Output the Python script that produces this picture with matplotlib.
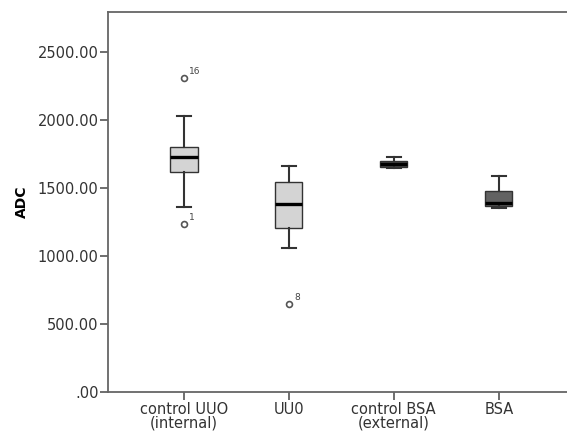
import matplotlib.pyplot as plt

# groups and box statistics (ADC)
grupos = ["control UUO\n(internal)", "UU0", "control BSA\n(external)", "BSA"]
mediana = [1730, 1385, 1680, 1395]
q1 = [1620, 1205, 1660, 1372]
q3 = [1800, 1550, 1702, 1480]
bigode_inf = [1360, 1063, 1649, 1353]
bigode_sup = [2035, 1665, 1732, 1590]
cores = ["#d4d4d4", "#d4d4d4", "#4a4a4a", "#626262"]

outliers_x = [1, 1, 2]
outliers_y = [2310, 1235, 650]
outliers_lab = ["16", "1", "8"]

stats = []
for i in range(len(grupos)):
    stats.append({"med": mediana[i], "q1": q1[i], "q3": q3[i],
                  "whislo": bigode_inf[i], "whishi": bigode_sup[i],
                  "fliers": [], "label": grupos[i]})

fig = plt.figure(figsize=(5.67, 4.34), dpi=100)
ax = fig.add_axes([0.191, 0.096, 0.809, 0.876])

bp = ax.bxp(stats, positions=range(1, 5), widths=0.26, patch_artist=True,
            showfliers=False,
            boxprops=dict(edgecolor="#333333", linewidth=1.0),
            medianprops=dict(color="black", linewidth=2.4),
            whiskerprops=dict(color="#333333", linewidth=1.5),
            capprops=dict(color="#333333", linewidth=1.5),
            capwidths=0.13)
for caixa, cor in zip(bp["boxes"], cores):
    caixa.set_facecolor(cor)

ax.scatter(outliers_x, outliers_y, s=18, facecolors="white",
           edgecolors="#555555", linewidths=1.2, zorder=3)
for x, y, t in zip(outliers_x, outliers_y, outliers_lab):
    ax.annotate(t, (x, y), xytext=(4, 3), textcoords="offset points",
                fontsize=6.5, color="#444444")

ax.set_ylim(0, 2795)
ax.set_xlim(0.28, 4.65)
ax.set_yticks([0, 500, 1000, 1500, 2000, 2500])
ax.set_yticklabels([".00", "500.00", "1000.00", "1500.00", "2000.00", "2500.00"])
ax.set_xticklabels(grupos, linespacing=0.9)
ax.set_ylabel("ADC", fontsize=10, fontweight="bold", labelpad=6)

for lado in ["left", "bottom", "top"]:
    ax.spines[lado].set_color("#666666")
    ax.spines[lado].set_linewidth(1.3)
ax.spines["right"].set_visible(False)
ax.tick_params(axis="both", colors="#555555", labelcolor="#333333",
               labelsize=10.5, length=6, width=1.2, pad=1)

fig.savefig("out.png", dpi=100)
